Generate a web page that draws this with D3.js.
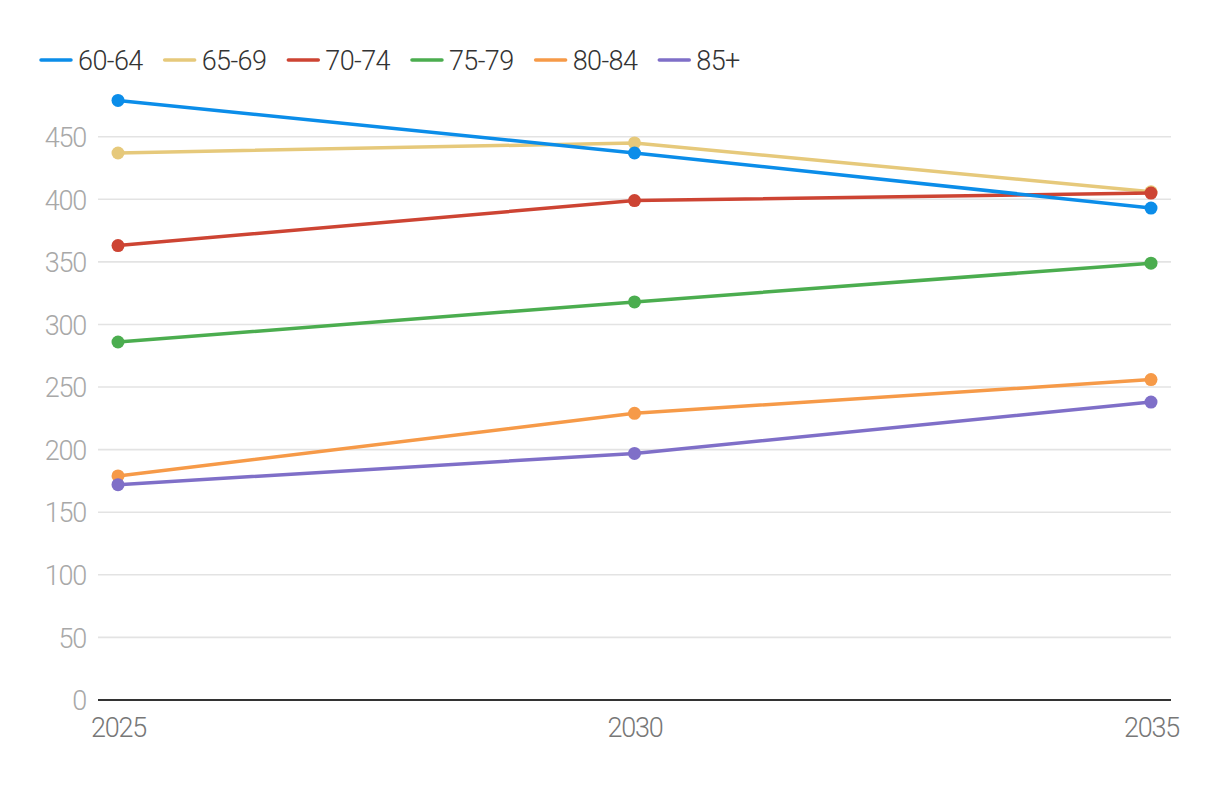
<!DOCTYPE html>
<html>
<head>
<meta charset="utf-8">
<script src="https://cdn.jsdelivr.net/npm/d3@7"></script>
<style>
  html, body { margin: 0; padding: 0; background: #fff; }
  text { font-family: Roboto, "Liberation Sans", sans-serif; font-weight: 300; }
</style>
</head>
<body>
<svg id="chart" width="1220" height="788"></svg>
<script>
const years = [2025, 2030, 2035];
const seriesNames = ["60-64", "65-69", "70-74", "75-79", "80-84", "85+"];
const seriesColors = ["#0b8de9", "#e6c97b", "#cd4433", "#4bad4f", "#f69a48", "#7f6fc8"];
const s6064 = [479, 437, 393];
const s6569 = [437, 445, 406];
const s7074 = [363, 399, 405];
const s7579 = [286, 318, 349];
const s8084 = [179, 229, 256];
const s85 = [172, 197, 238];
const yTicks = [0, 50, 100, 150, 200, 250, 300, 350, 400, 450];

const seriesValues = [s6064, s6569, s7074, s7579, s8084, s85];
const series = seriesNames.map((n, i) => ({ name: n, color: seriesColors[i], values: seriesValues[i] }));

const svg = d3.select("#chart");
const x = d3.scalePoint().domain(years).range([118, 1151]);
const y = d3.scaleLinear().domain([0, 450]).range([700, 136.7]);
const gridLeft = 98, gridRight = 1171;

// gridlines
svg.append("g").selectAll("line").data(yTicks.filter(d => d > 0)).join("line")
  .attr("x1", gridLeft).attr("x2", gridRight)
  .attr("y1", d => y(d)).attr("y2", d => y(d))
  .attr("stroke", "#e3e3e3").attr("stroke-width", 1.6);

// y axis labels
const yAxis = d3.axisLeft(y).tickValues(yTicks).tickSize(0).tickPadding(0);
const yg = svg.append("g").attr("transform", "translate(86,0)").call(yAxis);
yg.select(".domain").remove();
yg.selectAll("text").attr("fill", "#a8a8a8").attr("font-size", 27)
  .attr("letter-spacing", -1.2).attr("dy", "0.36em").attr("font-family", "Roboto, sans-serif");

// x axis
const xAxis = d3.axisBottom(x).tickSize(0).tickPadding(0);
const xg = svg.append("g").attr("transform", "translate(0,700)").call(xAxis);
xg.select(".domain").remove();
xg.selectAll("text").attr("fill", "#777").attr("font-size", 27)
  .attr("letter-spacing", -1.2).attr("y", 37).attr("dy", 0).attr("font-family", "Roboto, sans-serif");
svg.append("line").attr("x1", gridLeft).attr("x2", gridRight).attr("y1", 700).attr("y2", 700)
  .attr("stroke", "#333").attr("stroke-width", 2);

// lines & points (draw order so 60-64 on top)
const order = [1, 2, 3, 4, 5, 0];
const line = d3.line().x((d, i) => x(years[i])).y(d => y(d));
order.forEach(idx => {
  const s = series[idx];
  const g = svg.append("g");
  g.append("path").datum(s.values).attr("d", line)
    .attr("fill", "none").attr("stroke", s.color).attr("stroke-width", 3.5)
    .attr("stroke-linejoin", "round").attr("stroke-linecap", "round");
  g.selectAll("circle").data(s.values).join("circle")
    .attr("cx", (d, i) => x(years[i])).attr("cy", d => y(d)).attr("r", 6.5)
    .attr("fill", s.color);
});

// legend
const leg = svg.append("g");
let lx = 41;
series.forEach(s => {
  const g = leg.append("g").attr("transform", `translate(${lx},60)`);
  g.append("line").attr("x1", 0).attr("x2", 30).attr("y1", 0).attr("y2", 0)
    .attr("stroke", s.color).attr("stroke-width", 3.5).attr("stroke-linecap", "round");
  const t = g.append("text").attr("x", 37).attr("y", 0).attr("dy", "0.36em")
    .attr("fill", "#333").attr("font-size", 27).attr("letter-spacing", -0.6).text(s.name);
  lx += 37 + t.node().getComputedTextLength() + 22;
});
</script>
</body>
</html>
